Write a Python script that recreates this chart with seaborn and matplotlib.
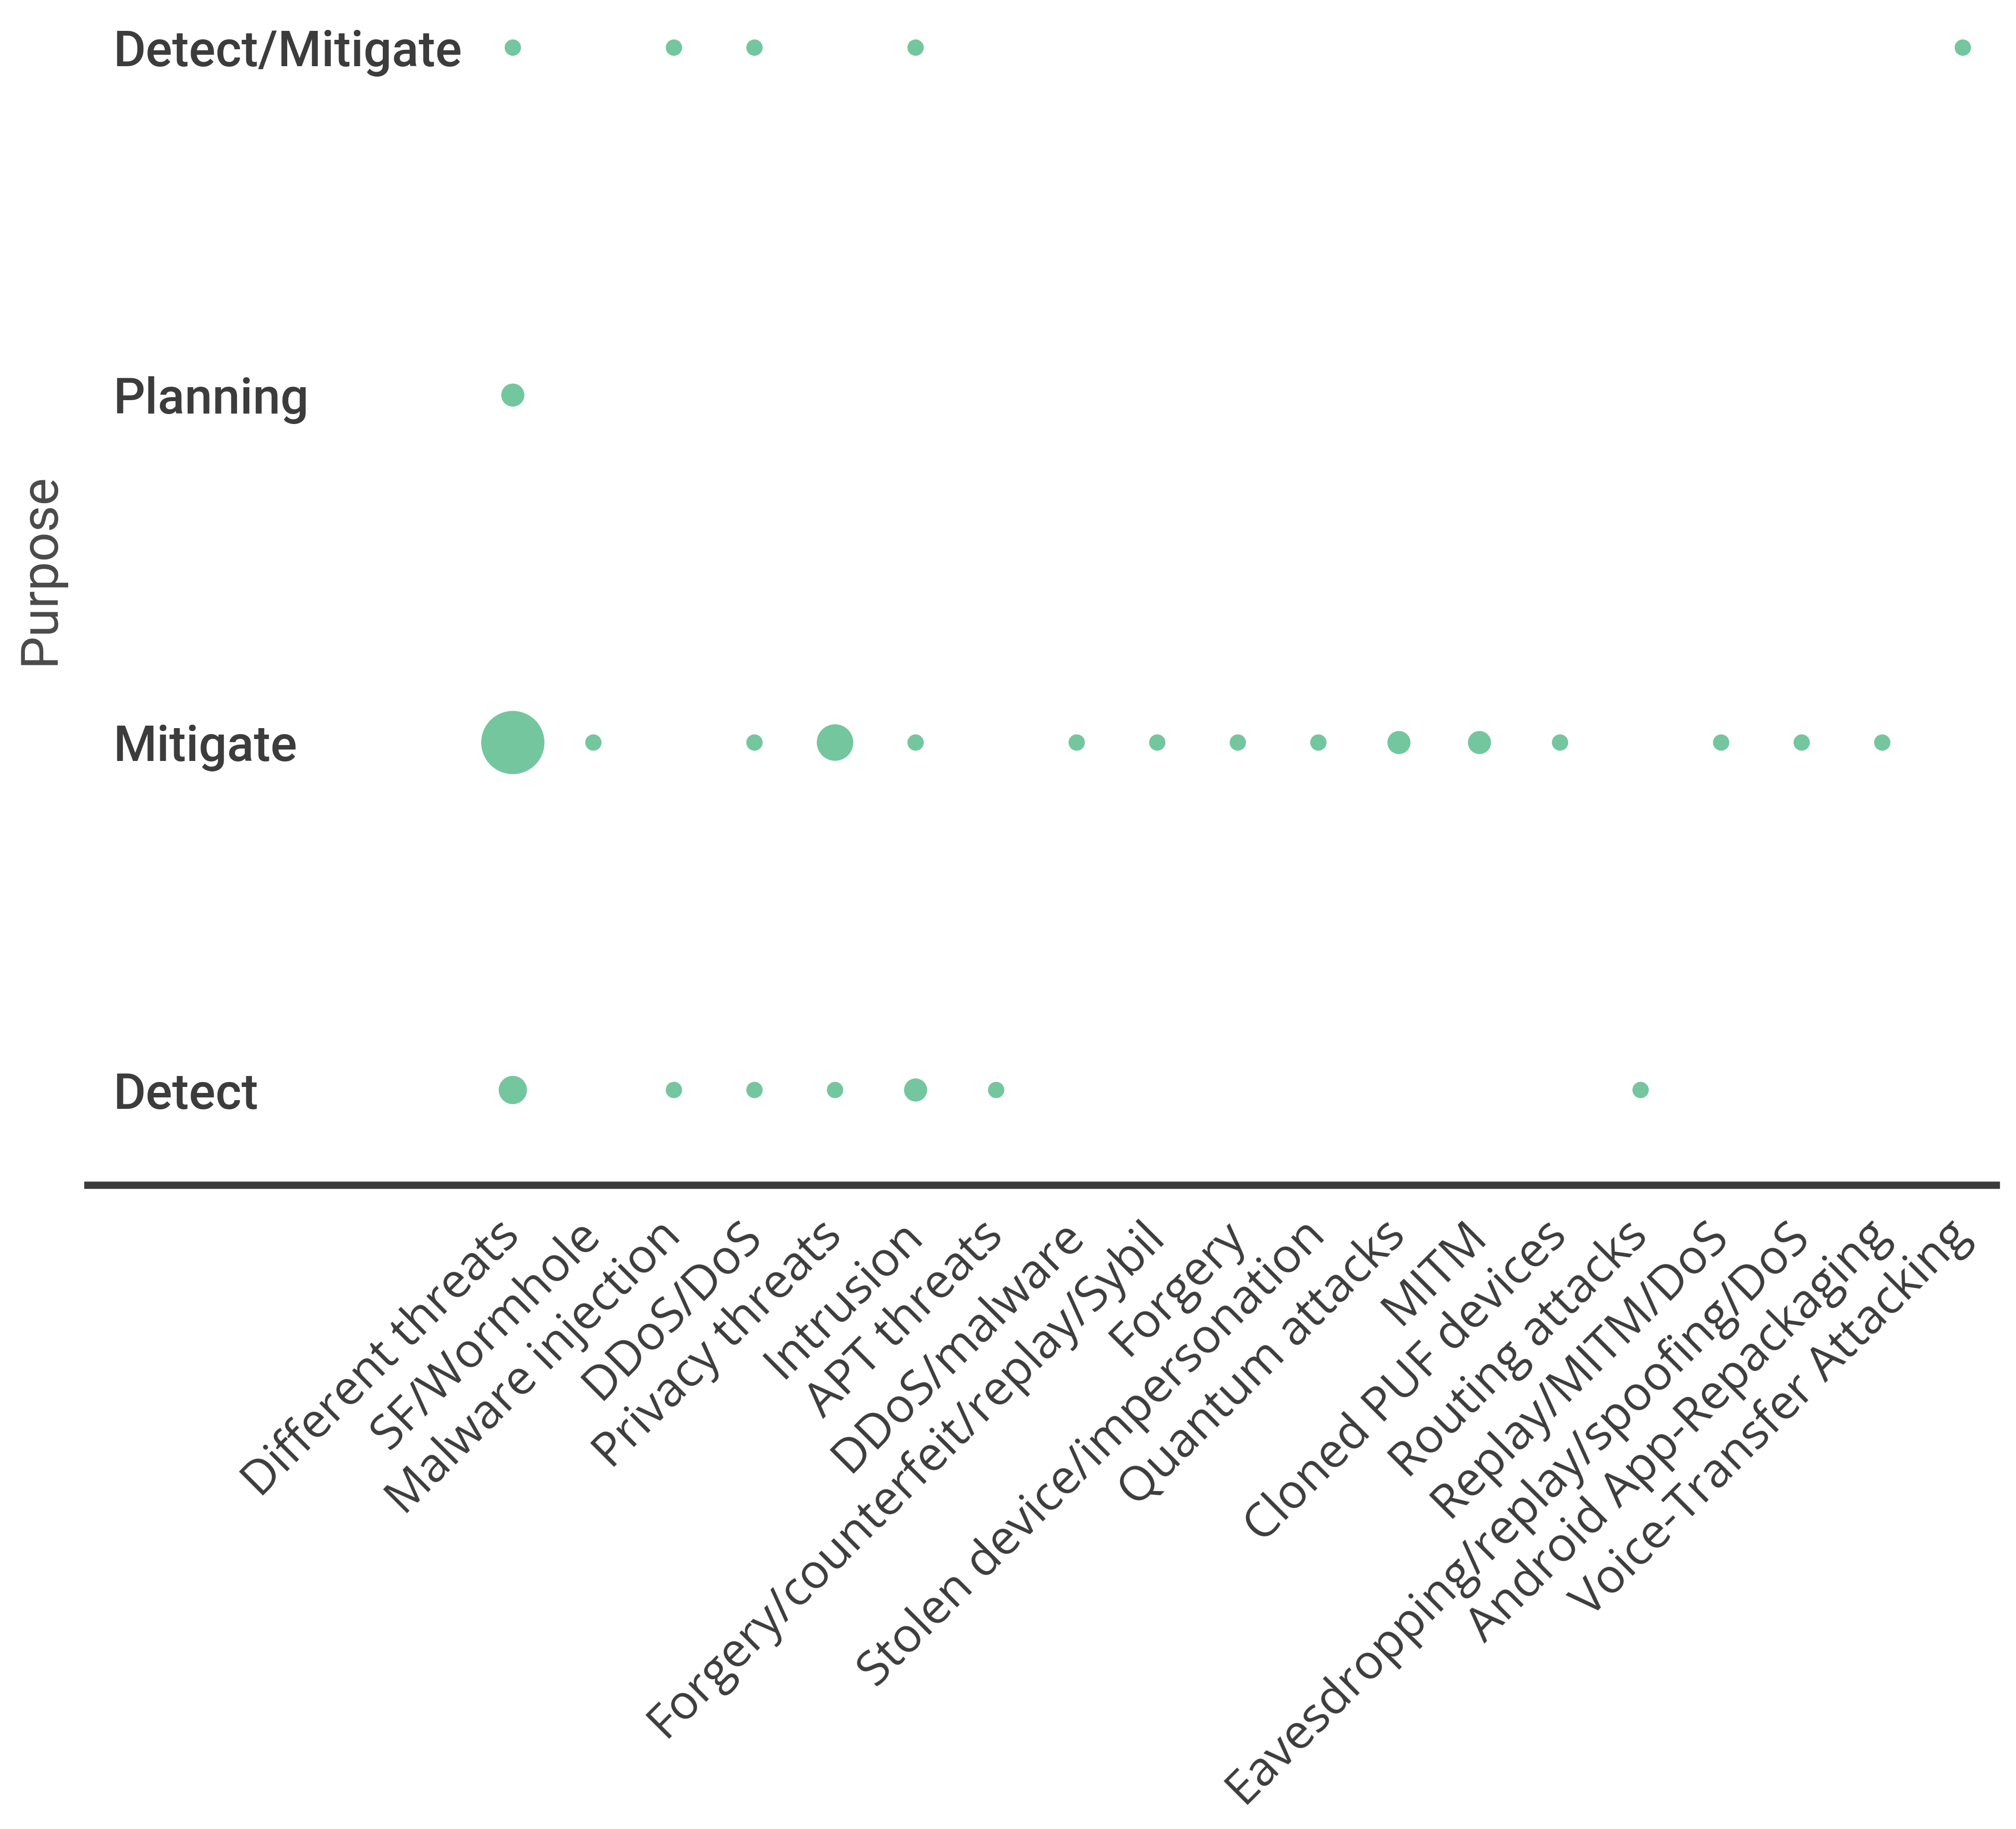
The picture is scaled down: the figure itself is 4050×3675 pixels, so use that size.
import pandas as pd
import matplotlib
matplotlib.use("Agg")
import matplotlib.pyplot as plt
import seaborn as sns

# Data
threats = [
    "Different threats",
    "SF/Wormhole",
    "Malware injection",
    "DDoS/DoS",
    "Privacy threats",
    "Intrusion",
    "APT threats",
    "DDoS/malware",
    "Forgery/counterfeit/replay/Sybil",
    "Forgery",
    "Stolen device/impersonation",
    "Quantum attacks",
    "MITM",
    "Cloned PUF devices",
    "Routing attacks",
    "Replay/MITM/DoS",
    "Eavesdropping/replay/spoofing/DoS",
    "Android App-Repackaging",
    "Voice-Transfer Attacking",
]
purposes = ["Detect", "Mitigate", "Planning", "Detect/Mitigate"]

# number of studies per threat for each purpose (0 = no marker)
detect = [3, 0, 1, 1, 1, 2, 1, 0, 0, 0, 0, 0, 0, 0, 1, 0, 0, 0, 0]
mitigate = [15, 1, 0, 1, 5, 1, 0, 1, 1, 1, 1, 2, 2, 1, 0, 1, 1, 1, 0]
planning = [2, 0, 0, 0, 0, 0, 0, 0, 0, 0, 0, 0, 0, 0, 0, 0, 0, 0, 0]
detect_mitigate = [1, 0, 1, 1, 0, 1, 0, 0, 0, 0, 0, 0, 0, 0, 0, 0, 0, 0, 1]

DOT_COLOR = "#74c69f"
TEXT_COLOR = "#3c3c3c"


def build_frame() -> pd.DataFrame:
    """Long table of (threat, purpose, count) with non-zero counts."""
    rows = []
    for purpose, counts in zip(purposes, [detect, mitigate, planning, detect_mitigate]):
        for threat, c in zip(threats, counts):
            if c > 0:
                rows.append({"threat": threat, "purpose": purpose, "count": c})
    df = pd.DataFrame(rows)
    df["x"] = df["threat"].map({t: i for i, t in enumerate(threats)})
    df["y"] = df["purpose"].map({p: i for i, p in enumerate(purposes)})
    return df


df = build_frame()

sns.set_theme(style="white")
plt.rcParams["font.family"] = ["Roboto", "DejaVu Sans"]

fig = plt.figure(figsize=(13.5, 12.25), dpi=300)
ax = fig.add_axes([0.0434, 0.352, 0.9466, 0.648])

max_count = max(mitigate)
sns.scatterplot(
    data=df,
    x="x",
    y="y",
    size="count",
    sizes=(0, 62 * max_count),
    size_norm=(0, max_count),
    color=DOT_COLOR,
    linewidth=0,
    legend=False,
    ax=ax,
    clip_on=False,
)

# x axis
ax.set_xticks(range(len(threats)))
ax.set_xticklabels(
    threats,
    rotation=45,
    ha="right",
    va="center",
    rotation_mode="anchor",
    fontsize=23,
    family=["Open Sans", "DejaVu Sans"],
    color=TEXT_COLOR,
)
ax.tick_params(axis="x", length=0, pad=21)
ax.set_xlabel("")

# y axis, labels drawn inside the plot area, left aligned
ax.set_yticks(range(len(purposes)))
ax.set_yticklabels(
    purposes, ha="left", fontsize=24, fontweight="medium", color=TEXT_COLOR
)
ax.tick_params(axis="y", length=0, pad=-12.5)
ax.set_ylabel("Purpose", fontsize=25, color="#4a4a4a")
ax.yaxis.set_label_coords(-0.012, 0.52)

ax.set_xlim(-5.28, 18.41)
ax.set_ylim(-0.274, 3.137)

for side in ["top", "right", "left"]:
    ax.spines[side].set_visible(False)
ax.spines["bottom"].set_linewidth(3.5)
ax.spines["bottom"].set_color("#3b3b3b")
ax.grid(False)

fig.savefig("out.png", dpi=300, facecolor="white")
